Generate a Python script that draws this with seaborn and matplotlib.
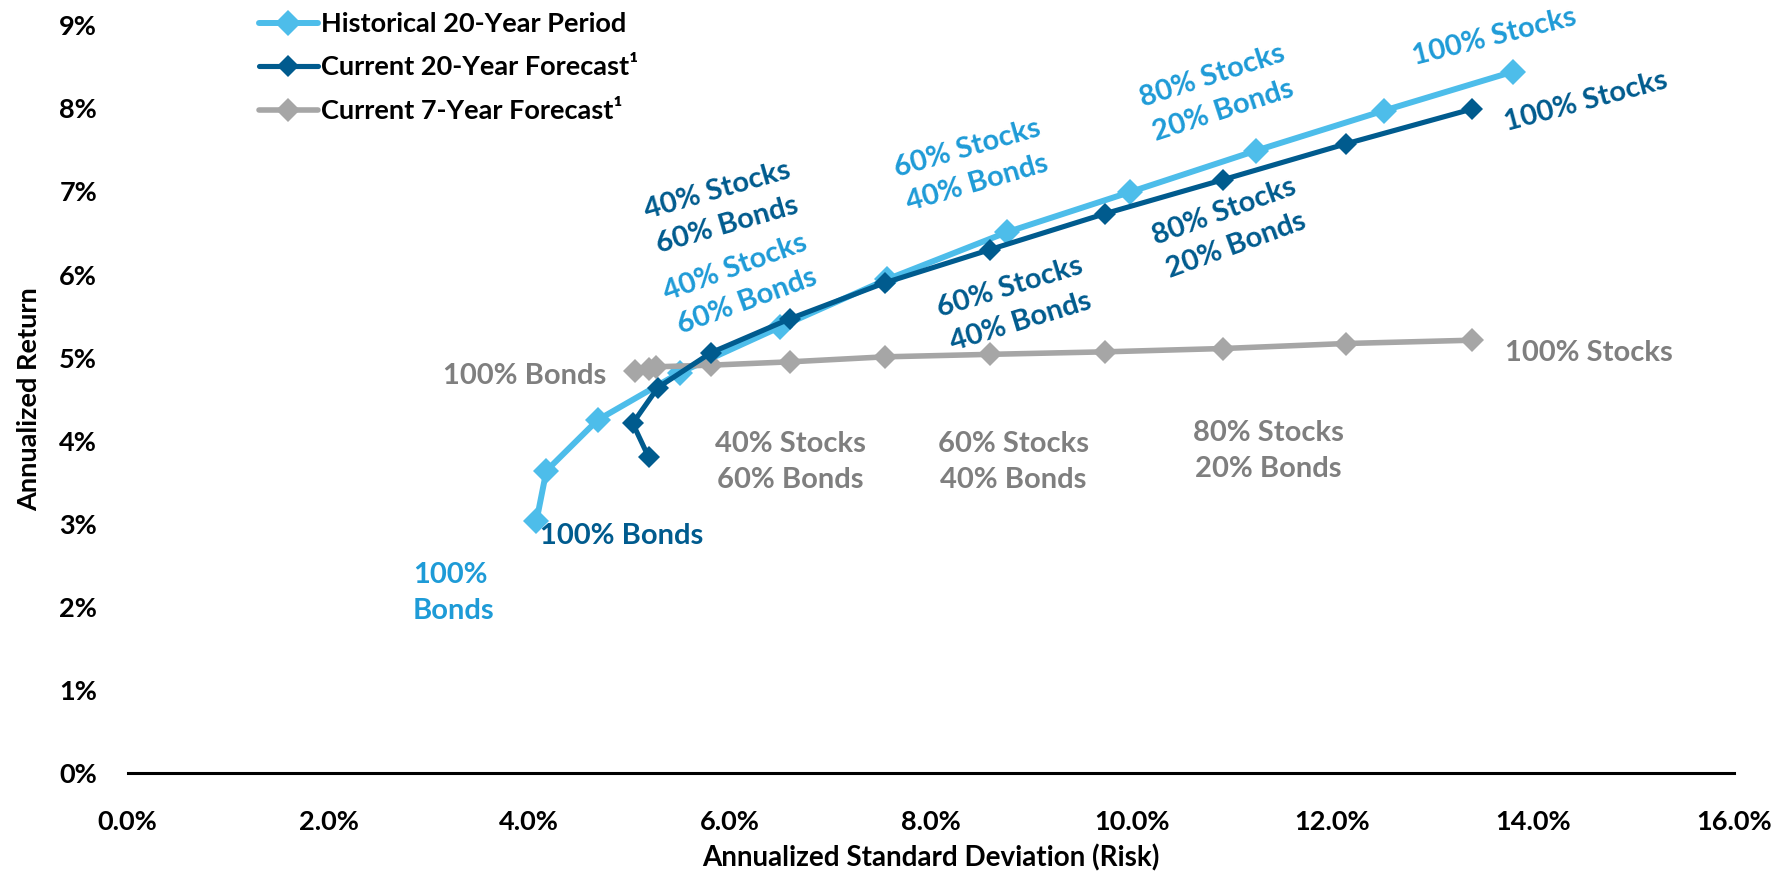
import matplotlib
matplotlib.use("Agg")
import matplotlib.pyplot as plt
import seaborn as sns
import pandas as pd

# Risk (annualized standard deviation, %) and return (%) for portfolios
# from 100% bonds (first point) to 100% stocks (last point) in 10% steps.
hist_risk = [4.07, 4.17, 4.68, 5.50, 6.50, 7.56, 8.76, 9.98, 11.24, 12.51, 13.80]
hist_ret = [3.03, 3.64, 4.25, 4.82, 5.37, 5.94, 6.51, 6.99, 7.49, 7.97, 8.44]

cur20_risk = [5.19, 5.03, 5.28, 5.81, 6.60, 7.54, 8.59, 9.73, 10.91, 12.13, 13.39]
cur20_ret = [3.80, 4.21, 4.64, 5.06, 5.47, 5.90, 6.30, 6.73, 7.14, 7.57, 7.99]

cur7_risk = [5.19, 5.05, 5.26, 5.81, 6.60, 7.54, 8.59, 9.73, 10.91, 12.13, 13.39]
cur7_ret = [4.86, 4.84, 4.89, 4.91, 4.95, 5.01, 5.04, 5.07, 5.11, 5.17, 5.21]

series_names = ["Historical 20-Year Period", "Current 20-Year Forecast\u00b9",
                "Current 7-Year Forecast\u00b9"]

x_ticks = [0, 2, 4, 6, 8, 10, 12, 14, 16]
x_tick_labels = ["0.0%", "2.0%", "4.0%", "6.0%", "8.0%", "10.0%", "12.0%", "14.0%", "16.0%"]
y_ticks = [0, 1, 2, 3, 4, 5, 6, 7, 8, 9]
y_tick_labels = ["0%", "1%", "2%", "3%", "4%", "5%", "6%", "7%", "8%", "9%"]

# Allocation labels: (text, x, y, rotation)
hist_labels = [("100%\nBonds", 3.27, 2.17, 0), ("40% Stocks\n60% Bonds", 6.11, 5.88, 20),
               ("60% Stocks\n40% Bonds", 8.41, 7.31, 16), ("80% Stocks\n20% Bonds", 10.86, 8.18, 18),
               ("100% Stocks", 13.61, 8.86, 14)]
cur20_labels = [("100% Bonds", 4.92, 2.86, 0), ("40% Stocks\n60% Bonds", 5.92, 6.80, 16),
                ("60% Stocks\n40% Bonds", 8.84, 5.64, 17), ("80% Stocks\n20% Bonds", 10.98, 6.55, 20),
                ("100% Stocks", 14.52, 8.08, 15)]
cur7_labels = [("100% Bonds", 3.95, 4.78, 0), ("40% Stocks\n60% Bonds", 6.60, 3.74, 0),
               ("60% Stocks\n40% Bonds", 8.82, 3.74, 0), ("80% Stocks\n20% Bonds", 11.36, 3.88, 0),
               ("100% Stocks", 14.55, 5.06, 0)]

c_hist, c_cur20, c_cur7 = "#4DBDEA", "#005B8E", "#A6A6A6"
t_hist, t_cur20, t_cur7 = "#1E9BD7", "#005B8E", "#7F7F7F"

sns.set_theme(style="white")
plt.rcParams["font.family"] = ["Lato", "DejaVu Sans"]
plt.rcParams["font.weight"] = "bold"

fig = plt.figure(figsize=(17.89, 8.72), dpi=100)
ax = fig.add_axes([0.0714, 0.1130, 0.8979, 0.8583])

df_hist = pd.DataFrame({"risk": hist_risk, "ret": hist_ret})
df_cur20 = pd.DataFrame({"risk": cur20_risk, "ret": cur20_ret})
df_cur7 = pd.DataFrame({"risk": cur7_risk, "ret": cur7_ret})

sns.lineplot(data=df_hist, x="risk", y="ret", sort=False, ax=ax, color=c_hist,
             linewidth=4.3, marker="D", markersize=13, markeredgewidth=0,
             label=series_names[0], zorder=3)
sns.lineplot(data=df_cur7, x="risk", y="ret", sort=False, ax=ax, color=c_cur7,
             linewidth=4.0, marker="D", markersize=12, markeredgewidth=0,
             label=series_names[2], zorder=4)
sns.lineplot(data=df_cur20, x="risk", y="ret", sort=False, ax=ax, color=c_cur20,
             linewidth=3.7, marker="D", markersize=11, markeredgewidth=0,
             label=series_names[1], zorder=5)

for labels, col in ((hist_labels, t_hist), (cur20_labels, t_cur20), (cur7_labels, t_cur7)):
    for text, x, y, rot in labels:
        left = text == "100%\nBonds"
        ax.text(2.84 if left else x, y, text, color=col, fontsize=21,
                fontweight="bold", rotation=rot, rotation_mode="anchor",
                ha="left" if left else "center", va="center", linespacing=1.48, zorder=6)

ax.set_xlim(0, 16)
ax.set_ylim(0, 9)
ax.set_xticks(x_ticks)
ax.set_xticklabels(x_tick_labels)
ax.set_yticks(y_ticks)
ax.set_yticklabels(y_tick_labels)
ax.tick_params(axis="x", length=0, pad=26, labelsize=19.5, labelcolor="black")
ax.tick_params(axis="y", length=0, pad=22, labelsize=19.5, labelcolor="black")
for lab in ax.get_xticklabels() + ax.get_yticklabels():
    lab.set_fontweight("bold")

for side in ("top", "right", "left"):
    ax.spines[side].set_visible(False)
ax.spines["bottom"].set_color("black")
ax.spines["bottom"].set_linewidth(2.2)
ax.grid(False)

ax.set_xlabel("Annualized Standard Deviation (Risk)", fontsize=20, fontweight="bold",
              color="black", labelpad=8)
ax.set_ylabel("Annualized Return", fontsize=19.5, fontweight="bold", color="black",
              labelpad=13)

handles, names = ax.get_legend_handles_labels()
order = [names.index(n) for n in series_names]
leg = ax.legend([handles[i] for i in order], [names[i] for i in order],
                loc="upper left", bbox_to_anchor=(0.134, 1.008), bbox_transform=fig.transFigure,
                frameon=False, fontsize=19.5, handlelength=2.2, handletextpad=0.1,
                labelspacing=0.72, borderaxespad=0.3)
for t in leg.get_texts():
    t.set_fontweight("bold")
    t.set_color("black")

fig.savefig("out.png", dpi=100, facecolor="white")
